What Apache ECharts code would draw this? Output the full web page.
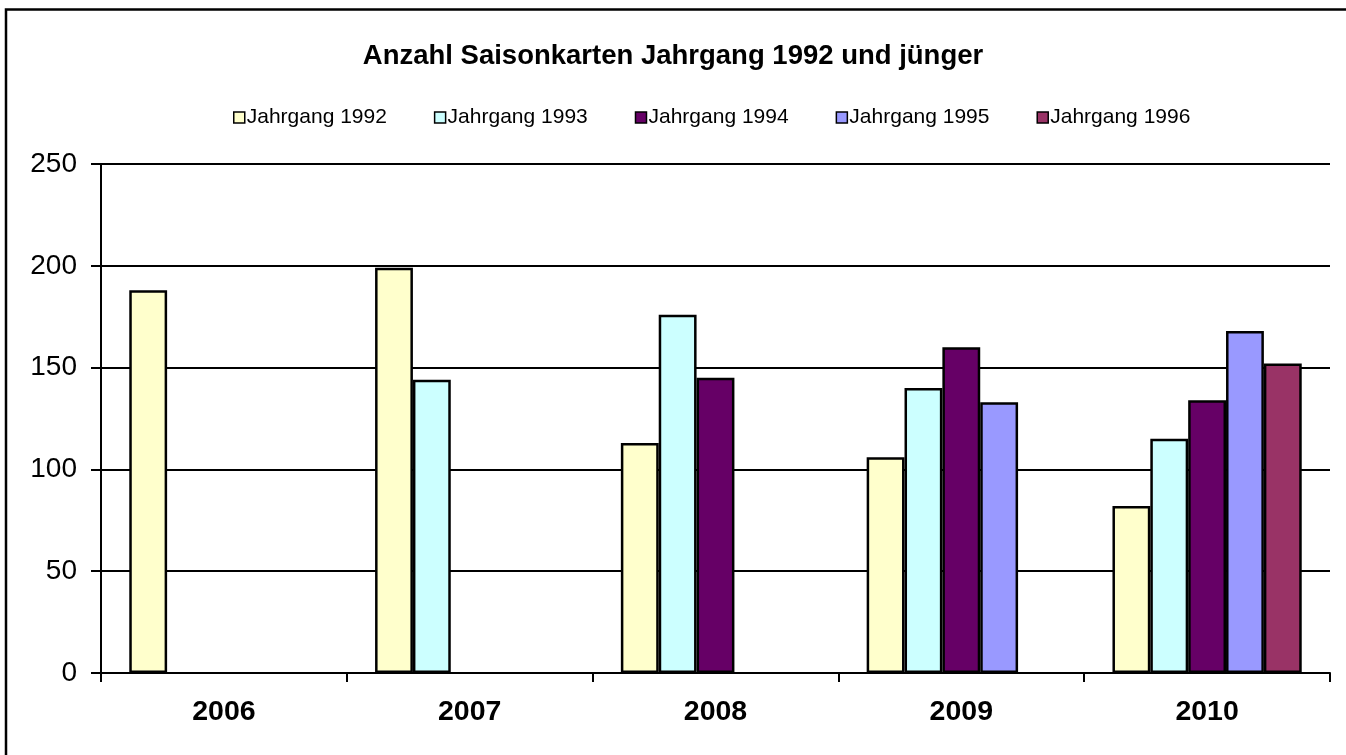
<!DOCTYPE html>
<html>
<head>
<meta charset="utf-8">
<title>Anzahl Saisonkarten</title>
<script src="https://cdn.jsdelivr.net/npm/echarts@6/dist/echarts.min.js"></script>
<style>
  html, body { margin: 0; padding: 0; background: #fff; }
  #chart { width: 1346px; height: 755px; }
</style>
</head>
<body>
<div id="chart"></div>
<script>
// Saisons (Kategorien)
const years = ["2006", "2007", "2008", "2009", "2010"];
const seriesNames = ["Jahrgang 1992", "Jahrgang 1993", "Jahrgang 1994", "Jahrgang 1995", "Jahrgang 1996"];
// Werte je Jahrgang, '-' = kein Wert
const jg1992 = [188, 199, 113, 106, 82];
const jg1993 = ["-", 144, 176, 140, 115];
const jg1994 = ["-", "-", 145, 160, 134];
const jg1995 = ["-", "-", "-", 133, 168];
const jg1996 = ["-", "-", "-", "-", 152];
const yTicks = [0, 50, 100, 150, 200, 250];

const colors = ["#FFFFCC", "#CCFFFF", "#660066", "#9999FF", "#993366"];
const values = [jg1992, jg1993, jg1994, jg1995, jg1996];
const font = "Liberation Sans, Arial, sans-serif";

const chart = echarts.init(document.getElementById("chart"));

const option = {
  animation: false,
  backgroundColor: "#fff",
  textStyle: { fontFamily: font },
  graphic: [
    {
      type: "rect",
      shape: { x: 6, y: 9.5, width: 1400, height: 800 },
      style: { fill: "none", stroke: "#000", lineWidth: 2.5 },
      z: 0
    }
  ],
  title: {
    text: "Anzahl Saisonkarten Jahrgang 1992 und jünger",
    left: "center",
    top: 37,
    textStyle: { fontSize: 27.5, fontWeight: "bold", color: "#000", fontFamily: font }
  },
  legend: {
    data: seriesNames,
    left: 228,
    top: 102,
    itemWidth: 11,
    itemHeight: 11,
    itemGap: 47,
    icon: "rect",
    itemStyle: { borderColor: "#000", borderWidth: 1.5 },
    textStyle: { fontSize: 21, color: "#000", fontFamily: font, padding: [0, 0, 0, -3] }
  },
  grid: {
    left: 101,
    right: 16,
    top: 164,
    bottom: 82
  },
  xAxis: {
    type: "category",
    data: years,
    axisLine: { lineStyle: { color: "#000", width: 2 } },
    axisTick: { show: true, interval: 0, length: 9, lineStyle: { color: "#000", width: 2 } },
    axisLabel: { fontSize: 28.5, fontWeight: "bold", color: "#000", margin: 25, fontFamily: font }
  },
  yAxis: {
    type: "value",
    min: yTicks[0],
    max: yTicks[yTicks.length - 1],
    interval: 50,
    axisLine: { show: true, lineStyle: { color: "#000", width: 2 } },
    axisTick: { show: true, length: 10, lineStyle: { color: "#000", width: 2 } },
    axisLabel: { fontSize: 28, color: "#000", margin: 24, fontFamily: font },
    splitLine: { lineStyle: { color: "#000", width: 2 } }
  },
  series: seriesNames.map((name, i) => ({
    name: name,
    type: "bar",
    data: values[i],
    barGap: "0%",
    barCategoryGap: "23%",
    itemStyle: { color: colors[i], borderColor: "#000", borderWidth: 2.5 }
  }))
};

chart.setOption(option);
</script>
</body>
</html>
